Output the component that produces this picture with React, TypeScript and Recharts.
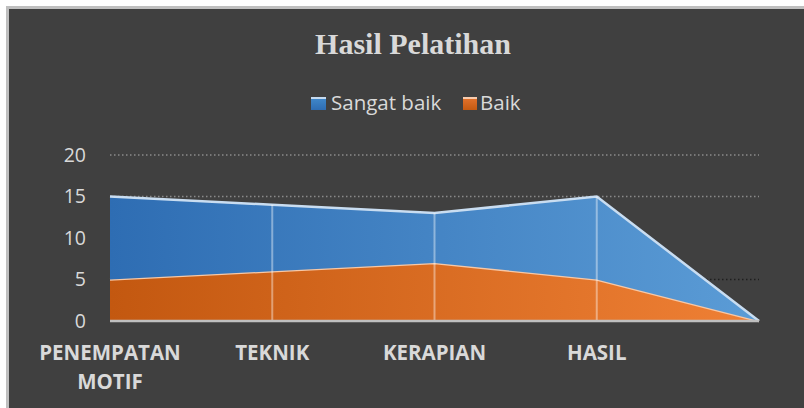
import React from 'react';
import { AreaChart, Area, XAxis, YAxis, CartesianGrid, ReferenceLine } from 'recharts';

const categories = ['PENEMPATAN MOTIF', 'TEKNIK', 'KERAPIAN', 'HASIL', ''];
const sangatBaik = [10, 8, 6, 10, 0];
const baik = [5, 6, 7, 5, 0];
const yTicks = [0, 5, 10, 15, 20];
const seriesNames = ['Sangat baik', 'Baik'];
const title = 'Hasil Pelatihan';

const data = categories.map((c, i) => ({ name: c, sangat: sangatBaik[i], baik: baik[i] }));
const totals = categories.map((c, i) => ({ name: c, total: sangatBaik[i] + baik[i] }));

const TEXT = '#d9d9d9';

const XTick = (props: any) => {
  const { x, y, payload } = props;
  const label: string = payload.value || '';
  const lines = label.length > 10 ? label.split(' ') : [label];
  return (
    <text x={x} y={y} textAnchor="middle" fill={TEXT} fontFamily="'Open Sans', sans-serif" fontWeight={700} fontSize={20.5}>
      {lines.map((l, i) => (
        <tspan key={i} x={x} dy={i === 0 ? 30.5 : 29}>{l}</tspan>
      ))}
    </text>
  );
};

export default function App() {
  return (
    <div style={{ position: 'absolute', left: 0, top: 0, width: 804, height: 408, background: '#fff', overflow: 'hidden' }}>
      <div style={{ position: 'absolute', left: 6, top: 6, width: 798, height: 402, boxSizing: 'border-box', borderLeft: '3px solid #bfbfbf', borderTop: '3px solid #bfbfbf', background: '#404040' }} />
      <svg width={804} height={408} style={{ position: 'absolute', left: 0, top: 0 }}>
        <defs>
          <linearGradient id="lgBlue" x1="0" y1="0" x2="0" y2="1">
            <stop offset="0" stopColor="#c5daf0" />
            <stop offset="0.15" stopColor="#c5daf0" />
            <stop offset="0.16" stopColor="#3f86c8" />
            <stop offset="1" stopColor="#2e6db3" />
          </linearGradient>
          <linearGradient id="lgOrange" x1="0" y1="0" x2="0" y2="1">
            <stop offset="0" stopColor="#f8cbad" />
            <stop offset="0.15" stopColor="#f8cbad" />
            <stop offset="0.16" stopColor="#e0702a" />
            <stop offset="1" stopColor="#c55a11" />
          </linearGradient>
        </defs>
        <text x={413} y={54} textAnchor="middle" fill={TEXT} fontFamily="'Liberation Serif', 'Times New Roman', serif" fontWeight={700} fontSize={30}>{title}</text>
        <rect x={311} y={97} width={15} height={13} fill="url(#lgBlue)" />
        <text x={331} y={110} fill={TEXT} fontFamily="'Open Sans', sans-serif" fontSize={20.5}>{seriesNames[0]}</text>
        <rect x={463} y={97} width={14} height={13} fill="url(#lgOrange)" />
        <text x={480} y={110} fill={TEXT} fontFamily="'Open Sans', sans-serif" fontSize={20.5}>{seriesNames[1]}</text>
      </svg>
      <div style={{ position: 'absolute', left: 0, top: 0 }}>
        <AreaChart width={804} height={408} data={data} margin={{ top: 155, right: 45, bottom: 0, left: 0 }}>
          <defs>
            <linearGradient id="gBlue" x1="0" y1="0" x2="1" y2="0">
              <stop offset="0" stopColor="#2e6db3" />
              <stop offset="1" stopColor="#5b9cd6" />
            </linearGradient>
            <linearGradient id="gOrange" x1="0" y1="0" x2="1" y2="0">
              <stop offset="0" stopColor="#c35810" />
              <stop offset="1" stopColor="#ef8035" />
            </linearGradient>
          </defs>
          <CartesianGrid vertical={false} horizontalValues={[15, 20]} stroke="#8a8a8a" strokeWidth={1.5} strokeDasharray="1.5 2.5" />
          <CartesianGrid vertical={false} horizontalValues={[5]} stroke="#1e1e1e" strokeWidth={1.5} strokeDasharray="1.5 2.5" />
          <XAxis dataKey="name" axisLine={{ stroke: '#bfbfbf', strokeWidth: 2.5 }} tickLine={false} height={87} tick={<XTick />} interval={0} />
          <YAxis domain={[0, 20]} ticks={yTicks} width={110} axisLine={false} tickLine={false} tickMargin={18}
            tick={{ fill: TEXT, fontSize: 19.5, fontFamily: "'Open Sans', sans-serif" }} />
          <Area type="linear" dataKey="baik" stackId="1" fill="url(#gOrange)" fillOpacity={1} stroke="#f7c8a6" strokeWidth={2.5} dot={false} activeDot={false} isAnimationActive={false} />
          <Area type="linear" dataKey="sangat" stackId="1" fill="url(#gBlue)" fillOpacity={1} stroke="#c9ddf1" strokeWidth={2.5} dot={false} activeDot={false} isAnimationActive={false} />
          {totals.slice(1, 4).map((t) => (
            <ReferenceLine key={t.name} segment={[{ x: t.name, y: 0 }, { x: t.name, y: t.total }]} stroke="#ffffff" strokeOpacity={0.4} strokeWidth={2} />
          ))}
        </AreaChart>
      </div>
    </div>
  );
}
